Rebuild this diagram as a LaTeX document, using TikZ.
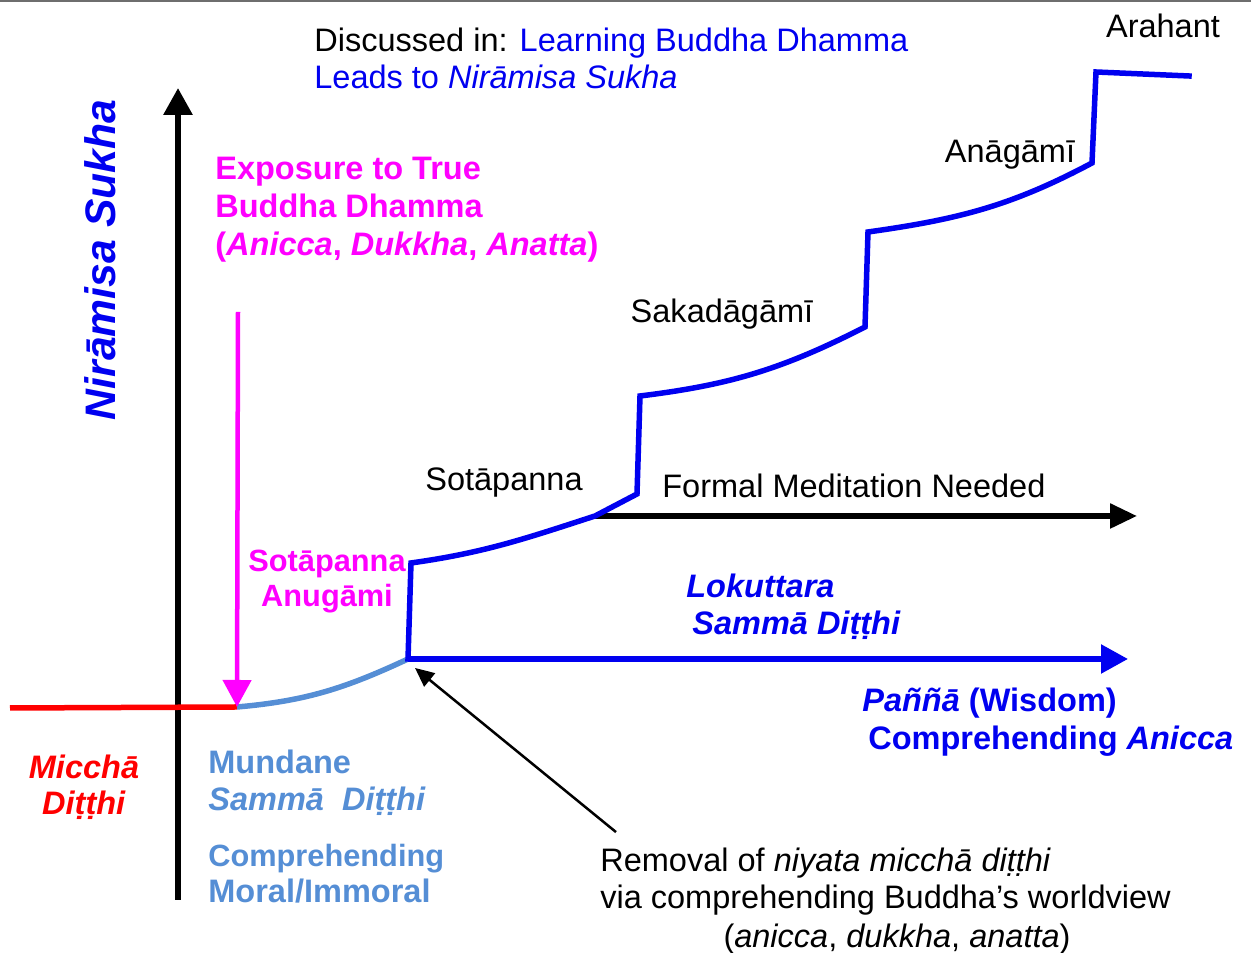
\documentclass[tikz,border=0pt]{standalone}
\usepackage{fontspec}
\setmainfont{Liberation Sans}
\usetikzlibrary{arrows.meta}
\definecolor{dhammablue}{RGB}{0,0,240}
\definecolor{mundaneblue}{RGB}{85,142,213}
\definecolor{exposepink}{RGB}{255,0,255}
\definecolor{micchared}{RGB}{255,0,0}
\definecolor{framegray}{RGB}{110,110,110}

\begin{document}
\begin{tikzpicture}[
  txt/.style={font=\fontsize{18.5}{22}\selectfont, inner sep=0pt},
  boldtxt/.style={font=\fontsize{18.5}{22}\selectfont\bfseries, inner sep=0pt},
  smallbold/.style={font=\fontsize{17.5}{21}\selectfont\bfseries, inner sep=0pt},
  bigtip/.style={-{Triangle[length=0.54cm,width=0.56cm]}},
  axisline/.style={bigtip, line width=0.12cm, draw=black},
  stairline/.style={draw=dhammablue, line width=0.11cm, line cap=rect},
  mundaneline/.style={draw=mundaneblue, line width=0.11cm},
  miccheline/.style={draw=micchared, line width=0.11cm},
  exposearrow/.style={bigtip, draw=exposepink, fill=exposepink, line width=0.09cm},
  lokarrow/.style={bigtip, draw=dhammablue, line width=0.11cm},
  meditarrow/.style={-{Triangle[length=0.54cm,width=0.48cm]}, line width=0.11cm},
  notearrow/.style={-{Triangle[length=0.38cm,width=0.34cm]}, line width=0.05cm}
]
\useasboundingbox (0,0) rectangle (25.02,19.06);
\draw[framegray, line width=0.04cm] (0,19.04) -- (25.02,19.04);

% ---------- Path points ----------
\coordinate (redstart) at (0.20,4.90);
\coordinate (exposurept) at (4.74,4.92);
\coordinate (mundaneend) at (8.16,5.88);
\coordinate (sotastart) at (8.22,7.80);
\coordinate (meditpt) at (11.90,8.74);
\coordinate (sotaend) at (12.74,9.18);
\coordinate (sakastart) at (12.80,11.14);
\coordinate (sakaend) at (17.30,12.52);
\coordinate (anastart) at (17.36,14.42);
\coordinate (anaend) at (21.84,15.80);
\coordinate (arastart) at (21.92,17.62);
\coordinate (araend) at (23.78,17.54);
\coordinate (lokend) at (22.56,5.88);
\coordinate (meditend) at (22.74,8.74);
\coordinate (axisbottom) at (3.56,1.06);
\coordinate (axistop) at (3.56,17.30);
\coordinate (exposestart) at (4.76,12.82);

% ---------- Axis and levels ----------
\draw[axisline] (axisbottom) -- (axistop);
\draw[miccheline] (redstart) -- (exposurept);
\draw[mundaneline] (exposurept) to[out=5,in=205] (mundaneend);
\draw[lokarrow] (mundaneend) -- (lokend);
\draw[meditarrow] (meditpt) -- (meditend);
\draw[stairline] (mundaneend) -- (sotastart) to[out=8,in=198] (meditpt) -- (sotaend)
  -- (sakastart) to[out=7,in=207] (sakaend) -- (anastart) to[out=8,in=208] (anaend)
  -- (arastart) -- (araend);
\draw[exposearrow] (exposestart) -- (exposurept);

% ---------- Top texts ----------
\node[txt, anchor=base west] (discussed) at (6.28,18.02)
  {Discussed in: \textcolor{dhammablue}{Learning Buddha Dhamma}};
\node[txt, anchor=base west, text=dhammablue] (leads) at (6.28,17.28)
  {Leads to \textit{Nirāmisa Sukha}};
\node[font=\fontsize{24.3}{28}\selectfont\bfseries\itshape, text=dhammablue,
  rotate=90, inner sep=0pt] (niramisa) at (2.00,13.86) {Nirāmisa Sukha};

% ---------- Stage names ----------
\node[txt, anchor=base] (arahant) at (23.26,18.30) {Arahant};
\node[txt, anchor=base] (anagami) at (20.20,15.80) {Anāgāmī};
\node[txt, anchor=base] (sakadagami) at (14.44,12.60) {Sakadāgāmī};
\node[txt, anchor=base] (sotapanna) at (10.08,9.24) {Sotāpanna};
\node[txt, anchor=base west] (formal) at (13.24,9.10) {Formal Meditation Needed};

% ---------- Magenta texts ----------
\node[boldtxt, anchor=base west, text=exposepink] (exposure1) at (4.30,15.46) {Exposure to True};
\node[boldtxt, anchor=base west, text=exposepink] (exposure2) at (4.30,14.70) {Buddha Dhamma};
\node[boldtxt, anchor=base west, text=exposepink] (exposure3) at (4.30,13.94)
  {(\textit{Anicca}, \textit{Dukkha}, \textit{Anatta})};
\node[smallbold, anchor=base, text=exposepink] (anugami1) at (6.54,7.62) {Sotāpanna};
\node[smallbold, anchor=base, text=exposepink] (anugami2) at (6.54,6.92) {Anugāmi};

% ---------- Blue texts ----------
\node[boldtxt, anchor=base west, text=dhammablue] (lokuttara1) at (13.72,7.10) {\textit{Lokuttara}};
\node[boldtxt, anchor=base west, text=dhammablue] (lokuttara2) at (13.84,6.36) {\textit{Sammā Diṭṭhi}};
\node[boldtxt, anchor=base west, text=dhammablue] (panna1) at (17.24,4.82) {\textit{Paññā} (Wisdom)};
\node[boldtxt, anchor=base west, text=dhammablue] (panna2) at (17.36,4.06) {Comprehending \textit{Anicca}};

% ---------- Lower left texts ----------
\node[boldtxt, anchor=base, text=micchared] (miccha1) at (1.68,3.48) {\textit{Micchā}};
\node[boldtxt, anchor=base, text=micchared] (miccha2) at (1.68,2.76) {\textit{Diṭṭhi}};
\node[boldtxt, anchor=base west, text=mundaneblue] (mundane1) at (4.16,3.58) {Mundane};
\node[boldtxt, anchor=base west, text=mundaneblue] (mundane2) at (4.16,2.84) {\textit{Sammā\ \ Diṭṭhi}};
\node[smallbold, anchor=base west, text=mundaneblue] (moral1) at (4.16,1.72) {Comprehending};
\node[boldtxt, anchor=base west, text=mundaneblue] (moral2) at (4.16,1.00) {Moral/Immoral};

% ---------- Removal note ----------
\node[txt, anchor=base west] (removal1) at (12.00,1.62) {Removal of \textit{niyata micchā diṭṭhi}};
\node[txt, anchor=base west] (removal2) at (12.00,0.88) {via comprehending Buddha’s worldview};
\node[txt, anchor=base] (removal3) at (17.94,0.10) {(\textit{anicca}, \textit{dukkha}, \textit{anatta})};
\draw[notearrow] ([shift={(0.32,0.32)}]removal1.north west) -- ([shift={(0.14,-0.18)}]mundaneend);

\end{tikzpicture}
\end{document}
